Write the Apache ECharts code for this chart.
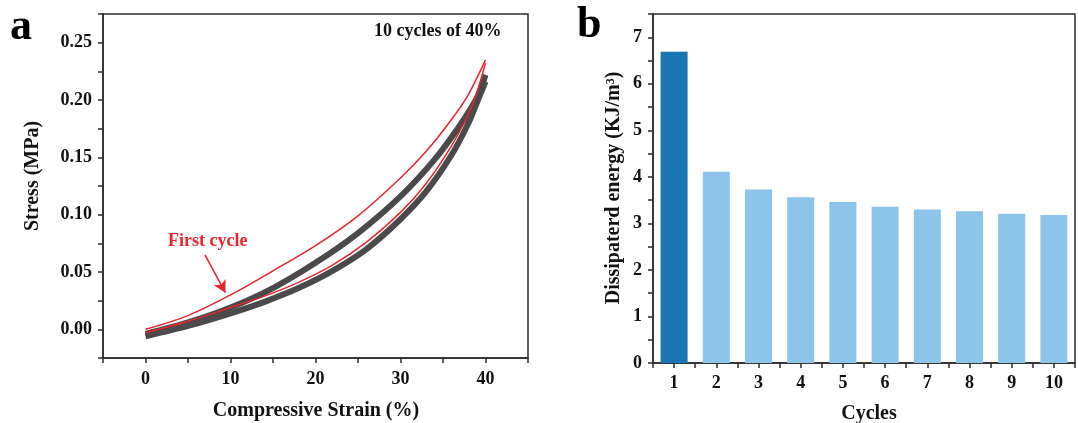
<!DOCTYPE html>
<html><head><meta charset="utf-8">
<script src="https://cdn.jsdelivr.net/npm/echarts@6/dist/echarts.min.js"></script>
<style>html,body{margin:0;padding:0;background:#fff}#c{width:1078px;height:423px}</style>
</head><body><div id="c"></div>
<script>
// Panel a: stress-strain hysteresis
const redLoadStrain   = [0, 5, 10, 15, 20, 25, 30, 33, 36, 38, 40];
const redLoadStress   = [0.000, 0.012, 0.030, 0.051, 0.073, 0.099, 0.132, 0.155, 0.183, 0.205, 0.235];
const redUnloadStrain = [40, 39, 38, 36, 33, 30, 26, 22, 18, 14, 10, 5, 0];
const redUnloadStress = [0.232, 0.207, 0.188, 0.160, 0.127, 0.102, 0.076, 0.056, 0.041, 0.029, 0.019, 0.007, -0.003];
const grayLoadStrain   = [0, 5, 10, 15, 20, 25, 30, 34, 37, 39, 40];
const grayLoadStress   = [-0.004, 0.006, 0.019, 0.036, 0.058, 0.084, 0.116, 0.148, 0.178, 0.202, 0.222];
const grayUnloadStrain = [40, 39, 38, 36, 33, 30, 26, 22, 18, 14, 10, 5, 0];
const grayUnloadStress = [0.216, 0.198, 0.180, 0.152, 0.120, 0.096, 0.070, 0.051, 0.036, 0.024, 0.014, 0.003, -0.006];
const xTicksA = [0, 10, 20, 30, 40];
const yTicksA = [0.00, 0.05, 0.10, 0.15, 0.20, 0.25];

// Panel b: dissipated energy per cycle
const cycles = [1, 2, 3, 4, 5, 6, 7, 8, 9, 10];
const energy = [6.69, 4.11, 3.73, 3.56, 3.46, 3.36, 3.30, 3.26, 3.21, 3.18];
const yTicksB = [0, 1, 2, 3, 4, 5, 6, 7];

const zip = (a, b) => a.map((v, i) => [v, b[i]]);
const FONT = "'Liberation Serif', 'Times New Roman', serif";
const axisCol = '#2b2b2b';
const RED = '#e8262d';
const GRAY = '#4a4a4a';

const lab = {fontFamily: FONT, fontWeight: 'bold', fontSize: 18, color: '#111'};
const axLine = {show: true, onZero: false, lineStyle: {color: axisCol, width: 1.5}};
const axTick = {show: true, length: 5, lineStyle: {color: axisCol, width: 1.5}};

const chart = echarts.init(document.getElementById('c'), null, {renderer: 'canvas'});
chart.setOption({
  animation: false,
  backgroundColor: '#fff',
  grid: [
    {left: 103, top: 14, width: 425, height: 344, show: true, borderColor: axisCol, borderWidth: 1.5, backgroundColor: 'transparent'},
    {left: 653, top: 14, width: 430.4, height: 349, show: true, borderColor: axisCol, borderWidth: 1.5, backgroundColor: 'transparent'}
  ],
  xAxis: [
    {gridIndex: 0, type: 'value', min: -5, max: 45, interval: 5,
     axisLine: axLine, axisTick: axTick, splitLine: {show: false},
     axisLabel: Object.assign({margin: 12, formatter: v => xTicksA.includes(Math.round(v * 100) / 100) ? String(Math.round(v)) : ''}, lab)},
    {gridIndex: 1, type: 'value', min: 0.5, max: 10.5, interval: 0.5,
     axisLine: axLine, axisTick: axTick, splitLine: {show: false},
     axisLabel: Object.assign({margin: 11, formatter: v => cycles.includes(Math.round(v * 100) / 100) ? String(Math.round(v)) : ''}, lab)}
  ],
  yAxis: [
    {gridIndex: 0, type: 'value', min: -0.025, max: 0.275, interval: 0.025,
     axisLine: axLine, axisTick: axTick, splitLine: {show: false},
     axisLabel: Object.assign({margin: 11, formatter: v => {
       const r = Math.round(v * 1000) / 1000;
       return yTicksA.some(t => Math.abs(t - r) < 1e-6) ? r.toFixed(2) : '';
     }}, lab)},
    {gridIndex: 1, type: 'value', min: 0, max: 7.5, interval: 0.5,
     axisLine: axLine, axisTick: axTick, splitLine: {show: false},
     axisLabel: Object.assign({margin: 11, formatter: v => yTicksB.includes(Math.round(v * 100) / 100) ? String(Math.round(v)) : ''}, lab)}
  ],
  series: [
    {type: 'line', xAxisIndex: 0, yAxisIndex: 0, data: zip(grayLoadStrain, grayLoadStress), smooth: 0.3, showSymbol: false,
     lineStyle: {color: GRAY, width: 6}, z: 2},
    {type: 'line', xAxisIndex: 0, yAxisIndex: 0, data: zip(grayUnloadStrain, grayUnloadStress), smooth: 0.3, showSymbol: false,
     lineStyle: {color: GRAY, width: 6}, z: 2},
    {type: 'line', xAxisIndex: 0, yAxisIndex: 0, data: zip(redLoadStrain, redLoadStress), smooth: 0.3, showSymbol: false,
     lineStyle: {color: RED, width: 1.5}, z: 3,
     markLine: {silent: true, symbol: ['none', 'arrow'], symbolSize: [10, 12], label: {show: false},
       lineStyle: {color: RED, width: 1.5, type: 'solid'},
       data: [[{coord: [7.0, 0.065]}, {coord: [9.4, 0.032]}]]}},
    {type: 'line', xAxisIndex: 0, yAxisIndex: 0, data: zip(redUnloadStrain, redUnloadStress), smooth: 0.3, showSymbol: false,
     lineStyle: {color: RED, width: 1.5}, z: 3},
    {type: 'bar', xAxisIndex: 1, yAxisIndex: 1, barWidth: 27,
     data: cycles.map((c, i) => ({value: [c, energy[i]], itemStyle: {color: i === 0 ? '#1a76b2' : '#8dc4ea'}}))}
  ],
  graphic: [
    {type: 'text', left: 10, top: 6, style: {text: 'a', font: "bold 44px 'Liberation Serif'", fill: '#000'}},
    {type: 'text', left: 577, top: 4, style: {text: 'b', font: "bold 44px 'Liberation Serif'", fill: '#000'}},
    {type: 'text', left: 374, top: 22, style: {text: '10 cycles of 40%', font: "bold 18px 'Liberation Serif'", fill: '#111'}},
    {type: 'text', left: 168, top: 232, style: {text: 'First cycle', font: "bold 18px 'Liberation Serif'", fill: RED}},
    {type: 'text', x: 316, y: 411, style: {text: 'Compressive Strain (%)', font: "bold 20px 'Liberation Serif'", fill: '#111', align: 'center', verticalAlign: 'middle'}},
    {type: 'text', x: 33, y: 176, rotation: Math.PI / 2, style: {text: 'Stress (MPa)', font: "bold 20px 'Liberation Serif'", fill: '#111', align: 'center', verticalAlign: 'middle'}},
    {type: 'text', x: 869, y: 414, style: {text: 'Cycles', font: "bold 20px 'Liberation Serif'", fill: '#111', align: 'center', verticalAlign: 'middle'}},
    {type: 'text', x: 614, y: 188, rotation: Math.PI / 2, style: {text: 'Dissipaterd energy (KJ/m³)', font: "bold 20px 'Liberation Serif'", fill: '#111', align: 'center', verticalAlign: 'middle'}}
  ]
});
</script></body></html>
